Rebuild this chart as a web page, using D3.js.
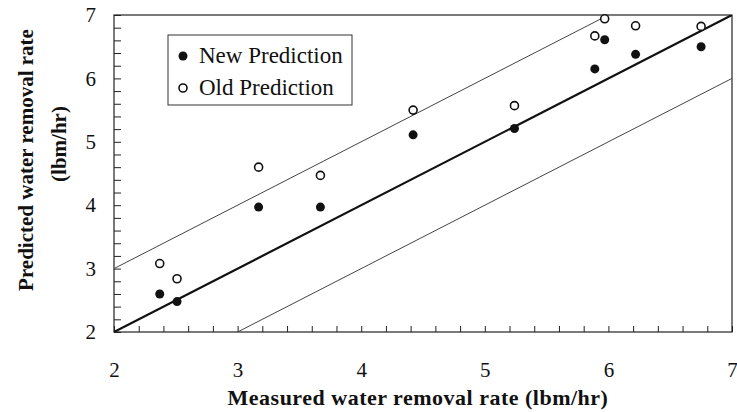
<!DOCTYPE html>
<html>
<head>
<meta charset="utf-8">
<script src="https://cdn.jsdelivr.net/npm/d3@7"></script>
<style>
  body { margin: 0; background: #fff; }
  svg text { font-family: "Liberation Serif", "Times New Roman", serif !important; fill: #111; }
</style>
</head>
<body>
<svg id="chart"></svg>
<script>
// Measured water removal rate (lbm/hr) for each test
const measured = [2.37, 2.51, 3.17, 3.67, 4.42, 5.24, 5.89, 5.97, 6.22, 6.75];
// Predicted values, new and old model
const newPrediction = [2.60, 2.48, 3.97, 3.97, 5.11, 5.21, 6.15, 6.61, 6.38, 6.50];
const oldPrediction = [3.08, 2.84, 4.60, 4.47, 5.50, 5.57, 6.67, 6.94, 6.83, 6.82];
// Reference lines: perfect agreement and +/- 1 lbm/hr band
const bandOffsets = [0, 1, -1];
const tickLabels = [2, 3, 4, 5, 6, 7];
const legendLabels = ["New Prediction", "Old Prediction"];

const width = 737, height = 412;
const margin = { top: 15, right: 5, bottom: 80, left: 114 };

const svg = d3.select("#chart")
    .attr("width", width)
    .attr("height", height);

const x = d3.scaleLinear().domain([2, 7]).range([margin.left, width - margin.right]);
const y = d3.scaleLinear().domain([2, 7]).range([height - margin.bottom, margin.top]);

// minor ticks every 0.2
const minorTicks = d3.range(20, 71, 2).map(d => d / 10);
const fmt = d => (Math.abs(d - Math.round(d)) < 1e-6 && tickLabels.includes(Math.round(d))) ? String(Math.round(d)) : "";

// frame
svg.append("rect")
    .attr("x", x(2)).attr("y", y(7))
    .attr("width", x(7) - x(2)).attr("height", y(2) - y(7))
    .attr("fill", "none").attr("stroke", "#222").attr("stroke-width", 1.2);

const xAxis = svg.append("g")
    .attr("transform", `translate(0,${y(2)})`)
    .call(d3.axisBottom(x).tickValues(minorTicks).tickSizeInner(-6).tickSizeOuter(0).tickPadding(30).tickFormat(fmt));
xAxis.select(".domain").remove();
xAxis.selectAll(".tick line").attr("stroke", "#222");
xAxis.selectAll("text").attr("font-size", 21).attr("fill", "#111");

const yAxis = svg.append("g")
    .attr("transform", `translate(${x(2)},0)`)
    .call(d3.axisLeft(y).tickValues(minorTicks).tickSizeInner(-7).tickSizeOuter(0).tickPadding(18).tickFormat(fmt));
yAxis.select(".domain").remove();
yAxis.selectAll(".tick line").attr("stroke", "#222");
yAxis.selectAll("text").attr("font-size", 21).attr("fill", "#111");

// clip for reference lines
svg.append("clipPath").attr("id", "plot")
    .append("rect")
    .attr("x", x(2)).attr("y", y(7))
    .attr("width", x(7) - x(2)).attr("height", y(2) - y(7));

const line = d3.line().x(d => x(d[0])).y(d => y(d[1]));
svg.append("g").attr("clip-path", "url(#plot)")
    .selectAll("path")
    .data(bandOffsets)
    .join("path")
    .attr("d", o => line([[1, 1 + o], [8, 8 + o]]))
    .attr("fill", "none")
    .attr("stroke", o => o === 0 ? "#111" : "#444")
    .attr("stroke-width", o => o === 0 ? 2.2 : 1);

// points
const pts = measured.map((m, i) => ({ m, n: newPrediction[i], o: oldPrediction[i] }));

svg.append("g").selectAll("circle")
    .data(pts)
    .join("circle")
    .attr("cx", d => x(d.m)).attr("cy", d => y(d.o))
    .attr("r", 4).attr("fill", "#fff").attr("stroke", "#111").attr("stroke-width", 1.6);

svg.append("g").selectAll("circle")
    .data(pts)
    .join("circle")
    .attr("cx", d => x(d.m)).attr("cy", d => y(d.n))
    .attr("r", 4.5).attr("fill", "#111");

// legend
const legend = svg.append("g");
legend.append("rect")
    .attr("x", 168).attr("y", 35).attr("width", 184).attr("height", 70)
    .attr("fill", "#fff").attr("stroke", "#333").attr("stroke-width", 1);
legendLabels.forEach((label, i) => {
    const cy = 56 + i * 32;
    legend.append("circle")
        .attr("cx", 183).attr("cy", cy)
        .attr("r", i === 0 ? 4.5 : 4)
        .attr("fill", i === 0 ? "#111" : "#fff")
        .attr("stroke", "#111").attr("stroke-width", i === 0 ? 0 : 1.6);
    legend.append("text")
        .attr("x", 199).attr("y", cy + 7)
        .attr("font-size", 23)
        .text(label);
});

// axis titles
svg.append("text")
    .attr("x", 418).attr("y", 405)
    .attr("text-anchor", "middle")
    .attr("font-size", 22).attr("font-weight", "bold")
    .attr("letter-spacing", 0.5)
    .text("Measured water removal rate (lbm/hr)");

svg.append("text")
    .attr("transform", "translate(33,160) rotate(-90)")
    .attr("text-anchor", "middle")
    .attr("font-size", 21).attr("font-weight", "bold")
    .text("Predicted water removal rate");

svg.append("text")
    .attr("transform", "translate(66,144) rotate(-90)")
    .attr("text-anchor", "middle")
    .attr("font-size", 21).attr("font-weight", "bold")
    .text("(lbm/hr)");
</script>
</body>
</html>
